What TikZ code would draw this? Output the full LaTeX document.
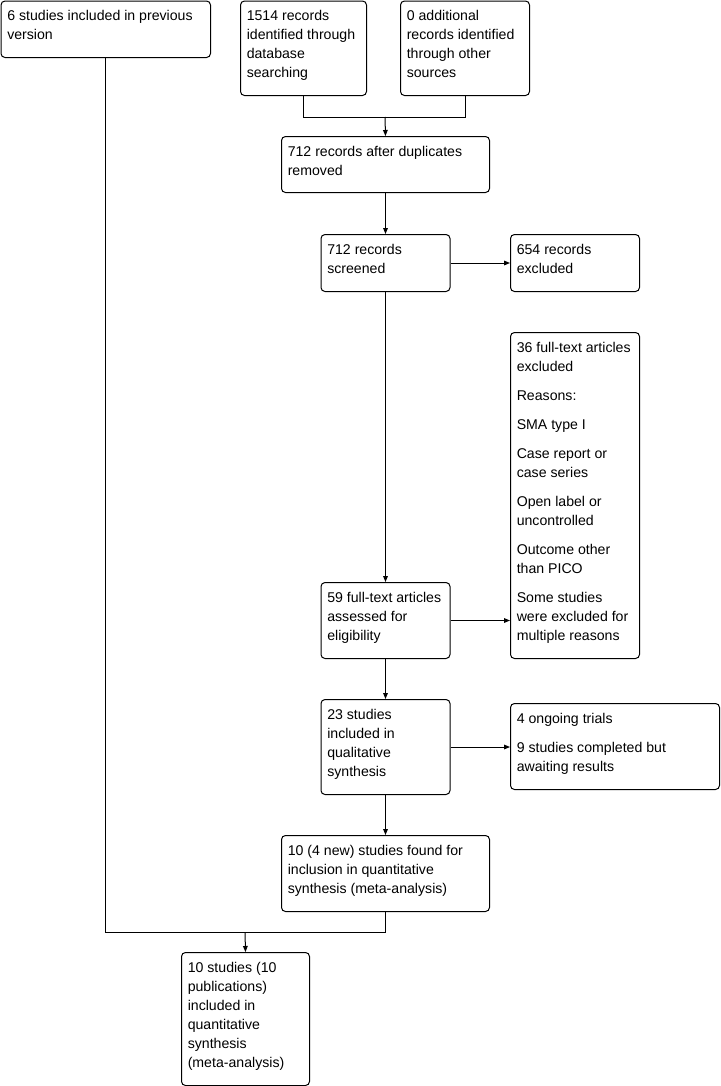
\documentclass[tikz,border=0pt]{standalone}
\usepackage{fontspec}
\setmainfont{Liberation Sans}
\usetikzlibrary{arrows.meta}
\begin{document}
\begin{tikzpicture}[x=0.75pt,y=-0.75pt,
  box/.style={draw=black,line width=0.75pt,rounded corners=3pt,anchor=north west,inner sep=0pt},
  txt/.style={anchor=north west,inner sep=0pt,align=left,font=\fontsize{10.6}{14.25}\selectfont},
  line/.style={draw=black,line width=0.75pt},
  arr/.style={line,-{Triangle[length=4.5pt,width=3.5pt]}}]
\useasboundingbox (0,0) rectangle (721,1086);
\newcommand{\flowbox}[6]{%
  \node[box,minimum width=#4*0.75pt,minimum height=#5*0.75pt] (#1) at (#2,#3) {};
  \node[txt] (#1t) at ([xshift=6.5*0.75pt,yshift=-9.5*0.75pt]#1.north west) {#6};}
\flowbox{A}{0.5}{0.5}{209.5}{56.5}{6 studies included in previous\\version}
\flowbox{B}{240}{0.5}{126}{94.5}{1514 records\\identified through\\database\\searching}
\flowbox{C}{400}{0.5}{129}{94.5}{0 additional\\records identified\\through other\\sources}
\flowbox{D}{281}{136}{208}{56}{712 records after duplicates\\removed}
\flowbox{E}{320.5}{234}{129}{57}{712 records\\screened}
\flowbox{F}{510}{234}{129}{57}{654 records\\excluded}
\flowbox{G}{510}{332}{129}{326}{36 full-text articles\\excluded\\[7.5pt]Reasons:\\[7.5pt]SMA type I\\[7.5pt]Case report or\\case series\\[7.5pt]Open label or\\uncontrolled\\[7.5pt]Outcome other\\than PICO\\[7.5pt]Some studies\\were excluded for\\multiple reasons}
\flowbox{H}{320.5}{582}{129}{76}{59 full-text articles\\assessed for\\eligibility}
\flowbox{I}{320.5}{699}{129}{95}{23 studies\\included in\\qualitative\\synthesis}
\flowbox{J}{510}{703}{209}{86}{4 ongoing trials\\[7.5pt]9 studies completed but\\awaiting results}
\flowbox{K}{281}{835}{208}{76}{10 (4 new) studies found for\\inclusion in quantitative\\synthesis (meta-analysis)}
\flowbox{L}{181}{952}{128}{133}{10 studies (10\\publications)\\included in\\quantitative\\synthesis\\(meta-analysis)}
\coordinate (j0) at (385,117);
\coordinate (j1) at (245,932);
\draw[line] (B.south) |- (j0);
\draw[line] (C.south) |- (j0);
\draw[arr] (j0) -- (D.north);
\draw[arr] (D.south) -- (E.north);
\draw[arr] (E.east) -- (F.west);
\draw[arr] (E.south) -- (H.north);
\draw[arr] (H.east) -- (H.east -| G.west);
\draw[arr] (H.south) -- (I.north);
\draw[arr] (I.east) -- (I.east -| J.west);
\draw[arr] (I.south) -- (K.north);
\draw[line] (A.south) |- (j1);
\draw[line] (K.south) |- (j1);
\draw[arr] (j1) -- (L.north);
\end{tikzpicture}
\end{document}
